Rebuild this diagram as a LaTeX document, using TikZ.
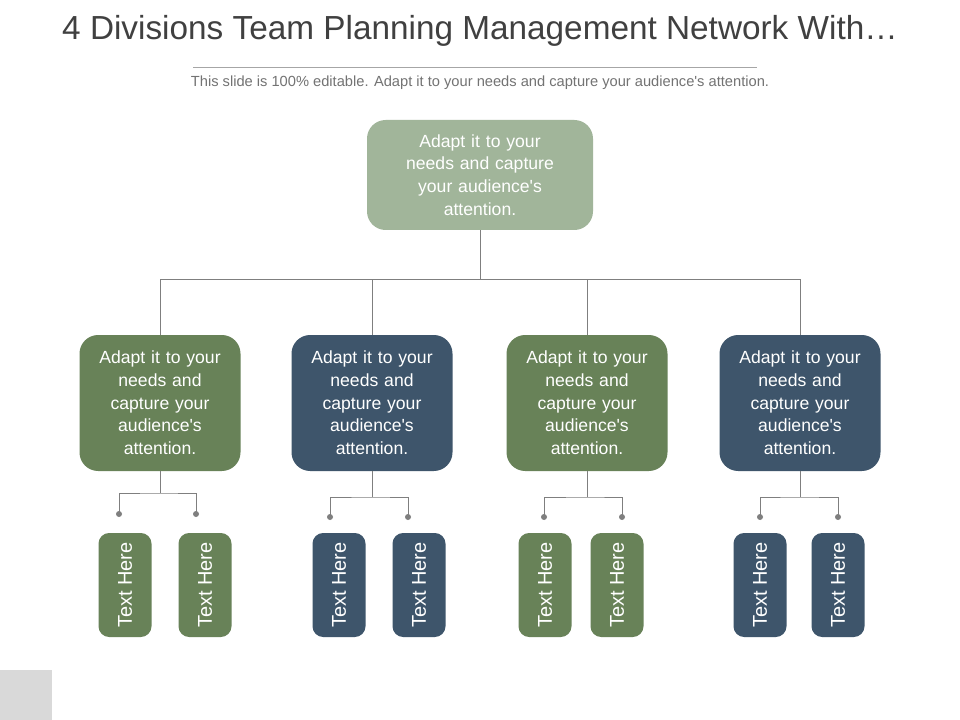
\documentclass[tikz,border=0pt]{standalone}
\usepackage{fontspec}
\setmainfont{Liberation Sans}
\usepackage[none]{hyphenat}
\usepackage{tikz}
\definecolor{grn}{RGB}{104,130,88}
\definecolor{blu}{RGB}{62,85,107}
\definecolor{lgrn}{RGB}{161,181,154}
\definecolor{lnk}{RGB}{127,127,127}
\newcommand{\aps}{\textquotesingle}
\tikzset{
  box/.style={rounded corners=14, text=white, align=center, inner sep=0pt, font=\fontsize{13.2}{17}\selectfont},
  tbox/.style={rounded corners=8, text=white, inner sep=0pt, minimum width=53*0.75pt, minimum height=104*0.75pt},
  vtext/.style={rotate=90, text=white, font=\fontsize{15}{18}\selectfont},
  wire/.style={draw=lnk, line width=0.6pt},
  dot/.style={circle, fill=lnk, inner sep=0pt, minimum size=4.5pt}
}
\begin{document}
\begin{tikzpicture}[x=0.75pt,y=0.75pt,yscale=-1,xscale=1]
\useasboundingbox (0,0) rectangle (960,720);
\fill[white] (0,0) rectangle (960,720);
\fill[black!15] (0,670) rectangle (52,720);

% Title
\node (title) at (480,31) {\fontsize{25}{28}\selectfont\color{black!75}4 Divisions Team Planning Management Network With\ldots};
\draw[black!35, line width=0.6pt] (193,67) -- (757,67);
\node (sub) at (480,83) {\fontsize{11}{12}\selectfont\color{black!55}This slide is 100\% editable. Adapt it to your needs and capture your audience\aps s attention.};

% Top box
\node[box, fill=lgrn, minimum width=226*0.75pt, minimum height=110*0.75pt, text width=160*0.75pt] (top) at (480,175) {Adapt it to your needs and capture your audience\aps s attention.};
\coordinate (hub) at (480,279);
\draw[wire] (top.south) -- (hub);

% Division boxes
\foreach \n/\x/\c/\ya/\yb/\da/\db/\la/\lb in {1/160/grn/493/514/119/196/125/205, 2/372/blu/497/517/330/408/339/419, 3/587/grn/497/517/544/622/545/617, 4/800/blu/497/517/760/838/760/838}{
  \node[box, fill=\c, minimum width=161*0.75pt, minimum height=136*0.75pt, text width=136*0.75pt] (div\n) at (\x,403) {Adapt it to your needs and capture your audience\aps s attention.};
  \coordinate (bar\n) at (\x,279);
  \draw[wire] (hub) -- (bar\n) -- (div\n.north);
  \coordinate (split\n) at (\x,\ya);
  \node[dot] (pa\n) at (\da,\yb) {};
  \node[dot] (pb\n) at (\db,\yb) {};
  \draw[wire] (div\n.south) -- (split\n);
  \draw[wire] (pa\n.center) |- (split\n) -| (pb\n.center);
  \node[tbox, fill=\c] (ta\n) at (\la,585) {};
  \node[vtext] at (ta\n) {Text Here};
  \node[tbox, fill=\c] (tb\n) at (\lb,585) {};
  \node[vtext] at (tb\n) {Text Here};
}
\end{tikzpicture}
\end{document}
